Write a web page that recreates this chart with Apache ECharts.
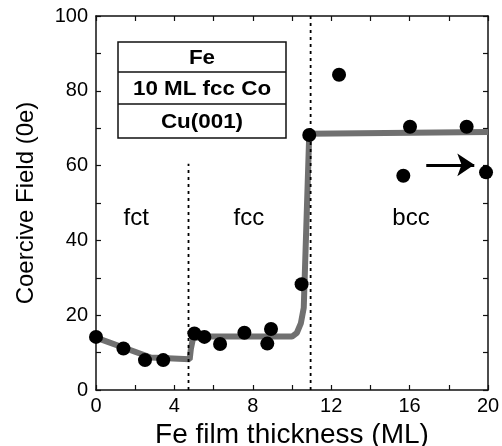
<!DOCTYPE html>
<html>
<head>
<meta charset="utf-8">
<style>html,body{margin:0;padding:0;background:#fff}#c{width:502px;height:446px}</style>
<script src="https://cdn.jsdelivr.net/npm/echarts@6/dist/echarts.min.js"></script>
</head>
<body>
<div id="c"></div>
<script>
// measured data points (Fe thickness ML, coercive field Oe)
var dataX = [0, 1.4, 2.5, 3.43, 5.02, 5.53, 6.33, 7.57, 8.74, 8.93, 10.49, 10.88, 12.4, 15.68, 16.02, 18.91, 19.9];
var dataY = [14.2, 11.1, 8.0, 8.0, 15.1, 14.2, 12.3, 15.3, 12.4, 16.3, 28.3, 68.2, 84.3, 57.3, 70.4, 70.4, 58.2];
// guide-to-the-eye curve
var fitX = [0, 2.8, 4.78, 4.84, 4.95, 5.5, 10.0, 10.25, 10.45, 10.6, 10.88, 20];
var fitY = [14, 8.7, 8.2, 11.0, 13.8, 14.3, 14.3, 15.3, 17.8, 22, 68.5, 69];
// phase boundaries
var boundX = [4.72, 10.95];
var boundTop = [60.5, 100];
// phase labels
var phaseNames = ['fct', 'fcc', 'bcc'];
var phaseX = [2.05, 7.8, 16.07];
var phaseY = [46, 46, 46];
// arrow
var arrowX = [16.85, 19.3];
var arrowY = [60.2, 60.2];
// layer stack labels
var stackLabels = ['Fe', '10 ML fcc Co', 'Cu(001)'];
var xTicks = [0, 4, 8, 12, 16, 20];
var yTicks = [0, 20, 40, 60, 80, 100];

var FONT = "'Liberation Sans', Arial, Helvetica, sans-serif";
var chart = echarts.init(document.getElementById('c'));

function pairs(xs, ys) { return xs.map(function (x, i) { return [x, ys[i]]; }); }

var axisCommon = {
  axisLine: { show: true, onZero: false, lineStyle: { color: '#111', width: 1.5 } },
  axisTick: { show: true, inside: true, length: 5, lineStyle: { color: '#111', width: 1.2 } },
  splitLine: { show: false }
};

var series = [
  {
    type: 'line', data: pairs(fitX, fitY), showSymbol: false, symbol: 'none',
    lineStyle: { color: '#707070', width: 6 }, z: 2, silent: true
  },
  {
    type: 'scatter', data: pairs(dataX, dataY), symbol: 'circle', symbolSize: 14,
    itemStyle: { color: '#000', opacity: 1 }, z: 5
  },
  {
    type: 'scatter', symbolSize: 0, itemStyle: { opacity: 1 },
    data: phaseNames.map(function (n, i) { return { value: [phaseX[i], phaseY[i]], name: n }; }),
    label: { show: true, position: 'inside', formatter: '{b}', color: '#000', fontSize: 24, fontFamily: FONT },
    z: 6, silent: true
  },
  {
    type: 'lines', coordinateSystem: 'cartesian2d', polyline: false,
    data: [{ coords: pairs(arrowX, arrowY) }],
    symbol: ['none', 'arrow'], symbolSize: [0, 17],
    lineStyle: { color: '#000', width: 3, opacity: 1 }, z: 6, silent: true
  }
];
boundX.forEach(function (bx, i) {
  series.push({
    type: 'line', data: [[bx, 0], [bx, boundTop[i]]], symbol: 'none',
    lineStyle: { color: '#000', width: 1.8, type: [3, 4] }, z: 3, silent: true
  });
});

chart.setOption({
  animation: false,
  backgroundColor: '#fff',
  grid: { left: 96, right: 14, top: 16, bottom: 56, containLabel: false, outerBoundsMode: 'none' },
  xAxis: [
    Object.assign({}, axisCommon, {
      type: 'value', min: 0, max: 20, interval: 2, position: 'bottom',
      name: 'Fe film thickness (ML)', nameLocation: 'middle', nameGap: 23,
      nameTextStyle: { fontSize: 28, color: '#000', fontFamily: FONT, verticalAlign: 'top' },
      axisLabel: {
        color: '#000', fontSize: 20, fontFamily: FONT, margin: 6,
        formatter: function (v) { return xTicks.indexOf(v) >= 0 ? String(v) : ''; }
      }
    }),
    Object.assign({}, axisCommon, {
      type: 'value', min: 0, max: 20, interval: 2, position: 'top', axisLabel: { show: false }
    })
  ],
  yAxis: [
    Object.assign({}, axisCommon, {
      type: 'value', min: 0, max: 100, interval: 10, position: 'left',
      name: 'Coercive Field (0e)', nameLocation: 'middle', nameGap: 58,
      nameTextStyle: { fontSize: 24, color: '#000', fontFamily: FONT },
      axisLabel: {
        color: '#000', fontSize: 20, fontFamily: FONT, margin: 8,
        formatter: function (v) { return yTicks.indexOf(v) >= 0 ? String(v) : ''; }
      }
    }),
    Object.assign({}, axisCommon, {
      type: 'value', min: 0, max: 100, interval: 10, position: 'right', axisLabel: { show: false }
    })
  ],
  series: series
});

// layer-stack box annotation
var bx0 = 118, by0 = 42, bw = 168, rows = [30, 32, 34];
var g = [];
var yy = by0;
g.push({ type: 'rect', shape: { x: bx0, y: by0, width: bw, height: rows[0] + rows[1] + rows[2] },
  style: { fill: '#fff', stroke: '#111', lineWidth: 1.5 }, z: 10 });
stackLabels.forEach(function (t, i) {
  if (i > 0) g.push({ type: 'line', shape: { x1: bx0, y1: yy, x2: bx0 + bw, y2: yy },
    style: { stroke: '#111', lineWidth: 1.5 }, z: 11 });
  g.push({ type: 'text', x: bx0 + bw / 2, y: yy + rows[i] / 2 + 1, scaleX: 1.12,
    style: { text: t, fill: '#000', font: 'bold 20px ' + FONT, align: 'center', verticalAlign: 'middle' }, z: 12 });
  yy += rows[i];
});
chart.setOption({ graphic: g });
</script>
</body>
</html>
